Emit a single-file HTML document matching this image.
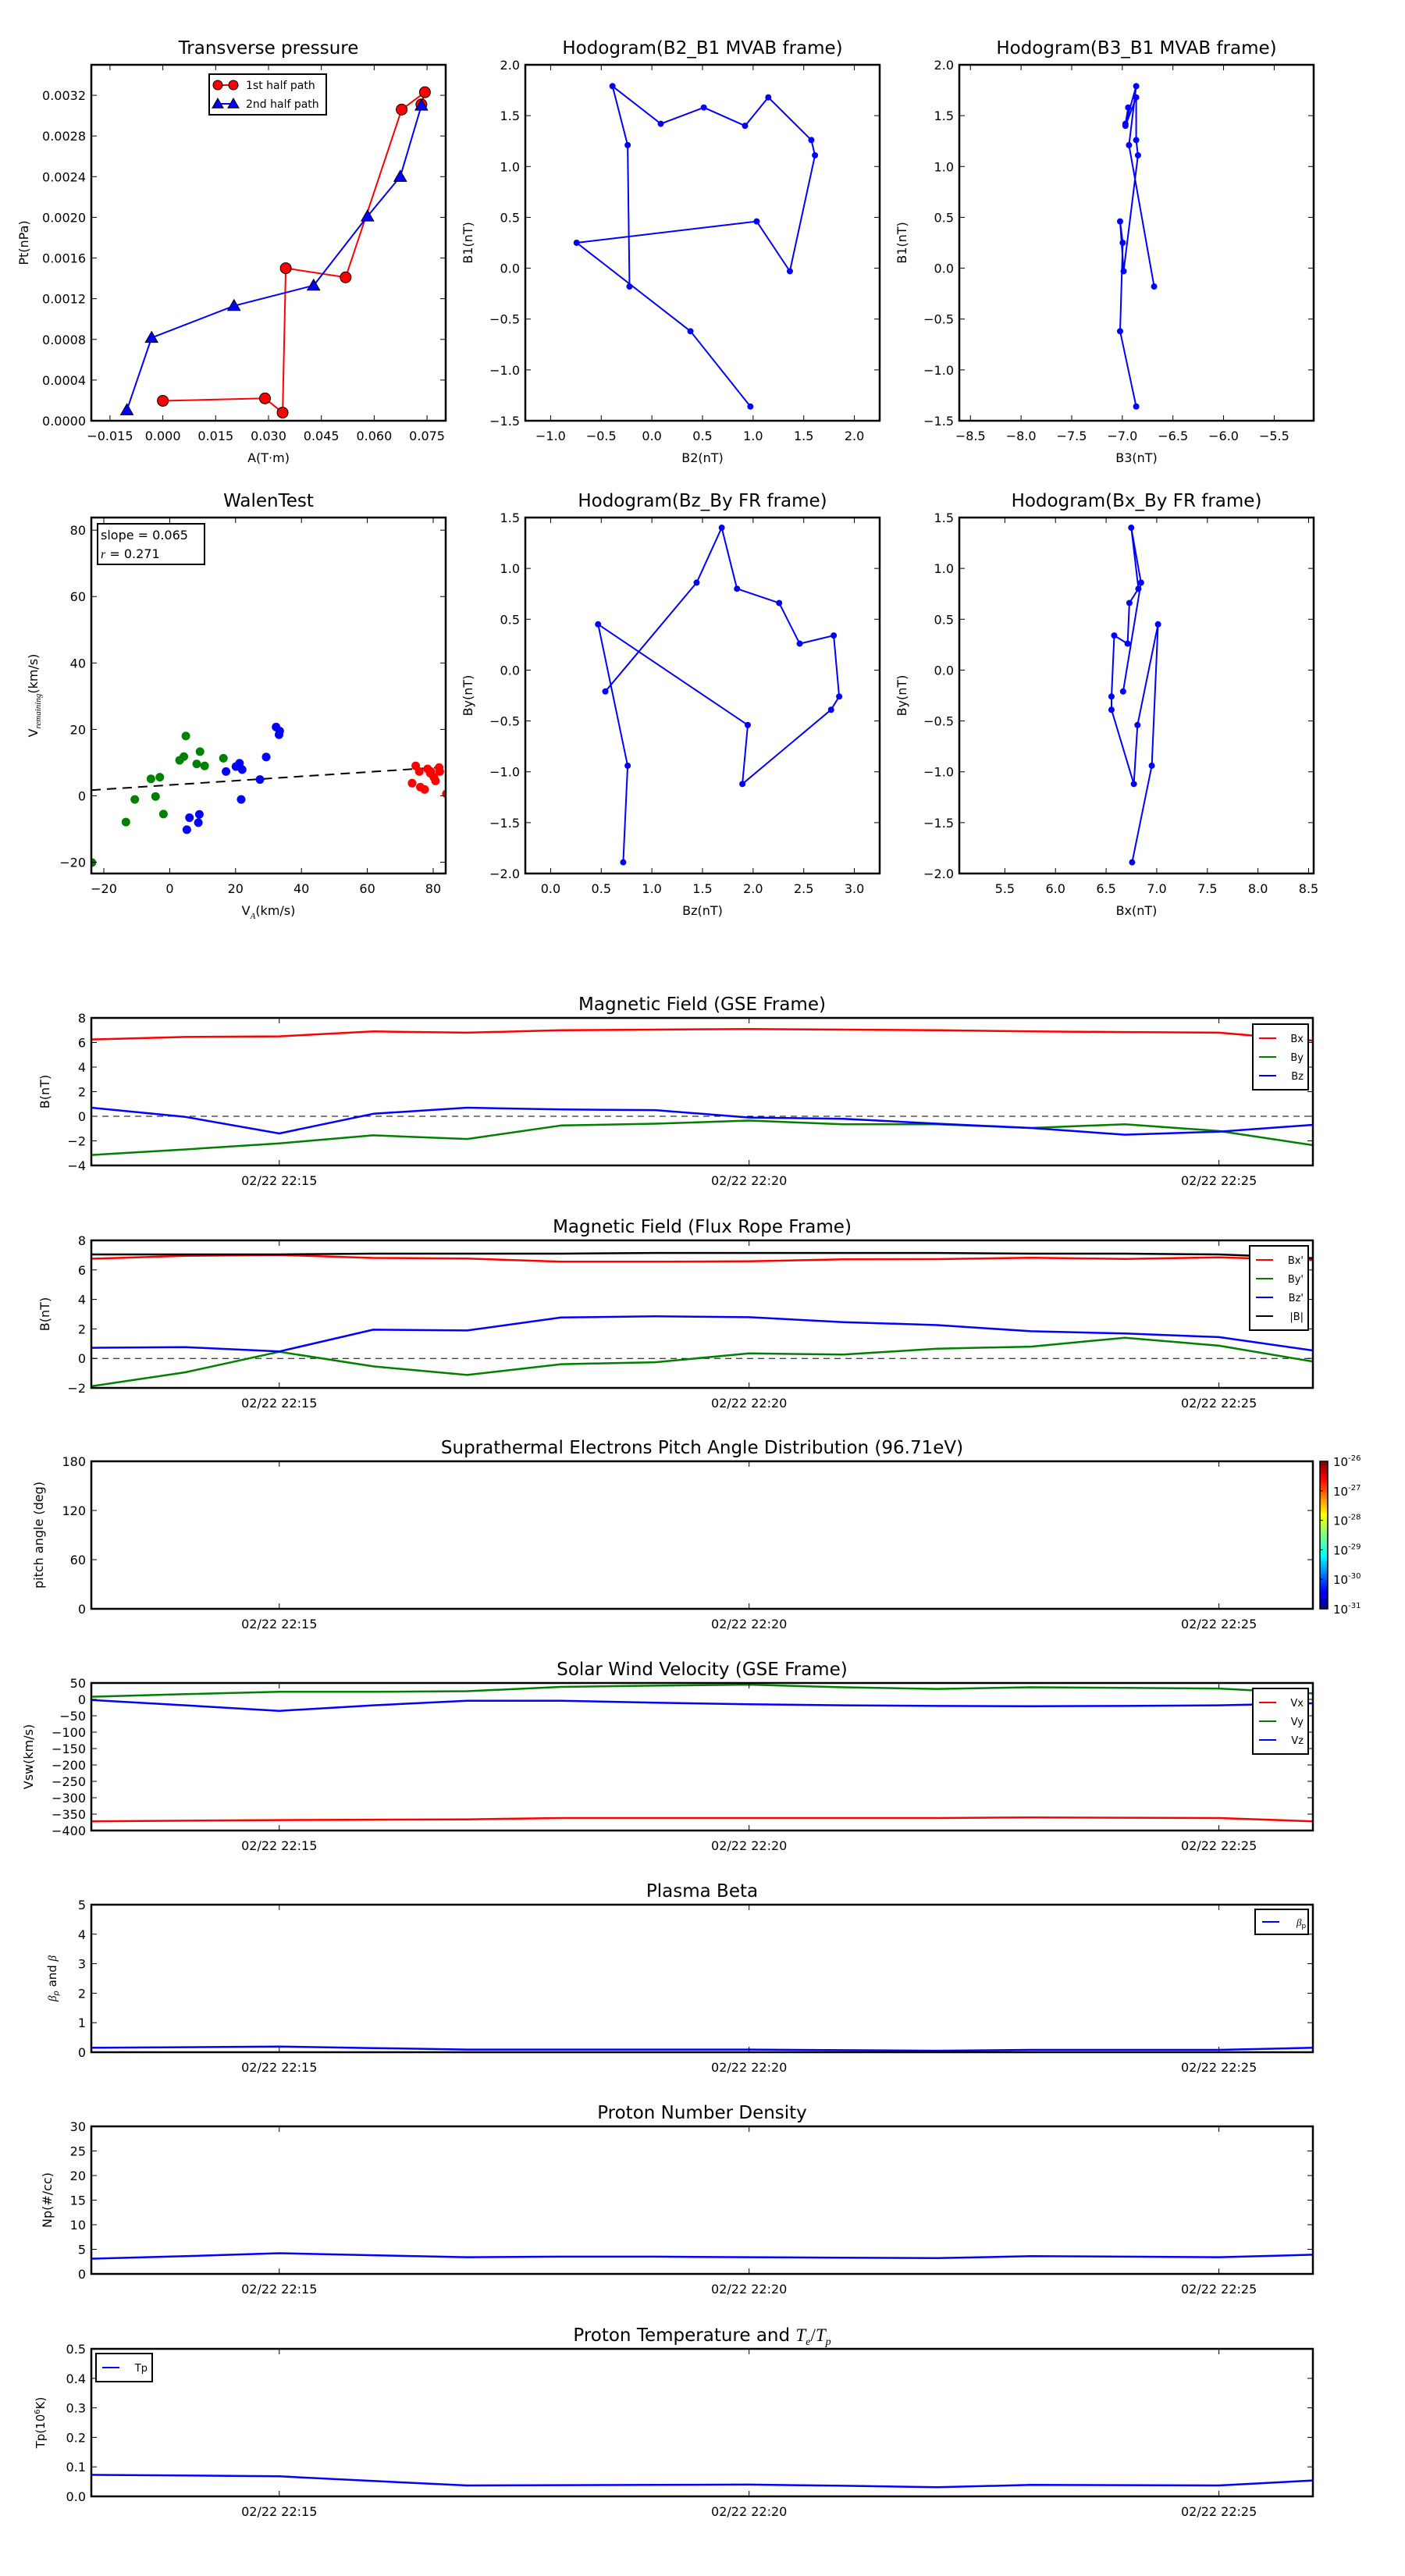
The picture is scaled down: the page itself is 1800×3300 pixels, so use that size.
<!DOCTYPE html>
<html><head><meta charset="utf-8">
<style>
html,body{margin:0;padding:0;background:#fff;}
svg{display:block;font-family:"DejaVu Sans","Liberation Sans",sans-serif;}
</style></head>
<body>
<svg id="fig" xmlns="http://www.w3.org/2000/svg" width="1800" height="3300" viewBox="0 0 1800 3300">
<defs>
<linearGradient id="jet" x1="0" y1="1" x2="0" y2="0">
<stop offset="0" stop-color="#00008f"/><stop offset="0.12" stop-color="#0000ff"/><stop offset="0.36" stop-color="#00ffff"/>
<stop offset="0.5" stop-color="#80ff80"/><stop offset="0.64" stop-color="#ffff00"/><stop offset="0.88" stop-color="#ff0000"/><stop offset="1" stop-color="#800000"/>
</linearGradient>
</defs>
</svg>
<script>
// ---------- data ----------
const tpRedA = [0.0, 0.0290, 0.0340, 0.0349, 0.0519, 0.0678, 0.0744, 0.0734];
const tpRedP = [0.000196, 0.00022, 0.00008, 0.0015, 0.00141, 0.00306, 0.00323, 0.00311];
const tpBlueA = [-0.0102, -0.0032, 0.0202, 0.0428, 0.0581, 0.0674, 0.0734];
const tpBlueP = [0.000105, 0.000816, 0.00113, 0.00133, 0.00201, 0.0024, 0.0031];
const tpXTicks = [-0.015, 0.0, 0.015, 0.030, 0.045, 0.060, 0.075];
const tpXLabels = ['\u22120.015','0.000','0.015','0.030','0.045','0.060','0.075'];
const tpYTicks = [0,0.0004,0.0008,0.0012,0.0016,0.0020,0.0024,0.0028,0.0032];
const tpYLabels = ['0.0000','0.0004','0.0008','0.0012','0.0016','0.0020','0.0024','0.0028','0.0032'];

const mvB2 = [0.973,0.381,-0.743,1.035,1.363,1.611,1.575,1.150,0.920,0.513,0.088,-0.389,-0.239,-0.221];
const mvB1 = [-1.36,-0.62,0.25,0.46,-0.03,1.11,1.26,1.68,1.40,1.58,1.42,1.79,1.21,-0.18];
const mvB3 = [-6.863,-7.022,-6.996,-7.022,-6.987,-6.845,-6.863,-6.863,-6.969,-6.942,-6.969,-6.863,-6.934,-6.686];

const frBz = [0.717,0.761,0.469,1.947,1.894,2.770,2.850,2.796,2.460,2.257,1.841,1.690,1.442,0.540];
const frBy = [-1.89,-0.94,0.45,-0.54,-1.12,-0.39,-0.26,0.34,0.26,0.66,0.80,1.40,0.86,-0.21];
const frBx = [6.757,6.951,7.013,6.810,6.774,6.553,6.553,6.580,6.712,6.730,6.819,6.748,6.845,6.668];
const frBt = [7.05,7.05,7.05,7.1,7.1,7.1,7.15,7.15,7.15,7.15,7.1,7.1,7.05,6.8];

const walenGX = [-23.6,-13.3,-10.6,-5.7,-3.0,-4.3,-1.9,4.9,3.0,4.3,8.2,9.2,10.6,16.3];
const walenGY = [-20.1,-7.9,-1.1,5.1,5.6,-0.2,-5.5,18.0,10.7,11.8,9.6,13.3,9.0,11.3];
const walenBX = [5.2,6.0,8.7,9.0,17.1,20.1,21.2,22.0,21.7,27.4,29.3,32.3,33.2,33.4];
const walenBY = [-10.2,-6.6,-8.1,-5.6,7.3,8.8,9.8,7.9,-1.1,4.9,11.7,20.7,18.4,19.5];
const walenRX = [74.7,73.6,75.8,76.1,77.4,78.3,79.1,80.2,80.7,81.8,84.0,79.3,82.0];
const walenRY = [9.0,3.8,7.3,2.6,1.9,8.1,6.8,5.6,4.5,8.5,0.6,7.3,7.3];
const walenSlope = [0.065];
const walenIntercept = [3.25];

const timeMin = [0,1,2,3,4,5,6,7,8,9,10,11,12,13];
const timeTicks = [2,7,12];
const timeLabels = ['02/22 22:15','02/22 22:20','02/22 22:25'];
const gseBx = [6.25,6.45,6.5,6.9,6.8,7.0,7.05,7.1,7.05,7.0,6.9,6.85,6.8,6.15];
const gseBy = [-3.15,-2.7,-2.2,-1.55,-1.85,-0.75,-0.6,-0.35,-0.65,-0.65,-0.95,-0.65,-1.2,-2.35];
const gseBz = [0.7,-0.05,-1.4,0.2,0.7,0.55,0.5,-0.1,-0.2,-0.6,-0.95,-1.5,-1.25,-0.7];
const vx = [-372,-370,-368,-367,-366,-362,-362,-362,-362,-362,-360,-361,-362,-372];
const vy = [8,16,23,23,25,38,42,45,37,32,37,35,33,18];
const vz = [-2,-18,-35,-18,-4,-4,-10,-15,-18,-20,-21,-20,-18,-12];
const betaP = [0.15,0.17,0.19,0.14,0.09,0.09,0.09,0.09,0.07,0.05,0.08,0.08,0.08,0.15];
const np = [3.1,3.6,4.2,3.8,3.4,3.5,3.5,3.4,3.3,3.2,3.6,3.5,3.4,3.9];
const tp = [0.073,0.071,0.068,0.052,0.037,0.038,0.039,0.040,0.036,0.031,0.039,0.038,0.037,0.054];

// ---------- helpers ----------
const NS='http://www.w3.org/2000/svg';
const fig=document.getElementById('fig');
let clipId=0;
function mk(tag, attrs, parent){
  const e=document.createElementNS(NS,tag);
  for(const k in attrs) e.setAttribute(k,attrs[k]);
  (parent||fig).appendChild(e);
  return e;
}
function txt(x,y,s,size,anchor,parent){
  const t=mk('text',{x:x,y:y,'font-size':size,'text-anchor':anchor||'middle',fill:'#000'},parent);
  t.textContent=s;
  return t;
}
function makeAxes(name,x,y,w,h,xmin,xmax,ymin,ymax){
  const g=mk('g',{});
  
  
  const id='clip'+(clipId++);
  const cp=mk('clipPath',{id:id},g);
  mk('rect',{x:x,y:y,width:w,height:h},cp);
  const plot=mk('g',{'clip-path':'url(#'+id+')'},g);
  
  
  return {g:g,plot:plot,x:x,y:y,w:w,h:h,
    sx:v=>x+(v-xmin)/(xmax-xmin)*w,
    sy:v=>y+h-(v-ymin)/(ymax-ymin)*h};
}
function frame(ax, xt, xl, yt, yl, fs){
  fs=fs||16;
  const r=mk('rect',{x:ax.x,y:ax.y,width:ax.w,height:ax.h,fill:'none',stroke:'#000','stroke-width':2.5},ax.g);
  
  
  xt.forEach((v,i)=>{
    const px=ax.sx(v);
    mk('line',{x1:px,y1:ax.y+ax.h,x2:px,y2:ax.y+ax.h-7,stroke:'#000','stroke-width':1},ax.g);
    mk('line',{x1:px,y1:ax.y,x2:px,y2:ax.y+7,stroke:'#000','stroke-width':1},ax.g);
    const t=txt(px,ax.y+ax.h+25,xl[i],fs,'middle',ax.g);
    
    
  });
  yt.forEach((v,i)=>{
    const py=ax.sy(v);
    mk('line',{x1:ax.x,y1:py,x2:ax.x+7,y2:py,stroke:'#000','stroke-width':1},ax.g);
    mk('line',{x1:ax.x+ax.w,y1:py,x2:ax.x+ax.w-7,y2:py,stroke:'#000','stroke-width':1},ax.g);
    const t=txt(ax.x-7,py+6,yl[i],fs,'end',ax.g);
    
    
  });
}
function title(ax,s,yoff){
  const t=txt(ax.x+ax.w/2,ax.y-(yoff||10),s,23,'middle',ax.g);
  
  
  return t;
}
function ylab(ax,s,x){
  const cy=ax.y+ax.h/2;
  const t=txt(x,cy,s,16,'middle',ax.g);
  t.setAttribute('transform','rotate(-90 '+x+' '+cy+')');
  
  
  return t;
}
function xlab(ax,s,y){
  const t=txt(ax.x+ax.w/2,y,s,16,'middle',ax.g);
  
  
  return t;
}
function poly(ax,xs,ys,color,w,name){
  const pts=xs.map((v,i)=>ax.sx(v).toFixed(1)+','+ax.sy(ys[i]).toFixed(1)).join(' ');
  const p=mk('polyline',{points:pts,fill:'none',stroke:color,'stroke-width':w,'stroke-linejoin':'round'},ax.plot);
  
  
  return p;
}
function dots(ax,xs,ys,color,r,edge,name){
  xs.forEach((v,i)=>{
    const c=mk('circle',{cx:ax.sx(v),cy:ax.sy(ys[i]),r:r,fill:color,stroke:edge||'none','stroke-width':1},ax.plot);
    
    
  });
}
function tri(px,py,s,parent){
  return mk('polygon',{points:px+','+(py-s)+' '+(px-s)+','+(py+s*0.75)+' '+(px+s)+','+(py+s*0.75),fill:'#0000ff',stroke:'#000','stroke-width':1},parent);
}

// ---------- Transverse pressure ----------
const C1=117,C2=673,C3=1229,CW=454,R1=83,R2=663,RH=456;
let ax=makeAxes('transverse-pressure-chart',C1,R1,CW,RH,-0.0203,0.0803,0,0.0035);
poly(ax,tpRedA,tpRedP,'#ff0000',2,'first-half-path-line');
poly(ax,tpBlueA,tpBlueP,'#0000ff',2,'second-half-path-line');
dots(ax,tpRedA,tpRedP,'#ff0000',7,'#000','first-half-marker');
tpBlueA.forEach((v,i)=>{
  const m=tri(ax.sx(v),ax.sy(tpBlueP[i]),8,ax.plot);
  
  
});
frame(ax,tpXTicks,tpXLabels,tpYTicks,tpYLabels);
title(ax,'Transverse pressure',14);
ylab(ax,'Pt(nPa)',36);
xlab(ax,'A(T\u00b7m)',592);
{
  const lg=mk('g',{},ax.g);
  
  
  mk('rect',{x:268,y:95,width:150,height:52,fill:'#fff',stroke:'#000','stroke-width':2},lg);
  mk('line',{x1:279,y1:109,x2:299,y2:109,stroke:'#ff0000','stroke-width':2},lg);
  mk('circle',{cx:279,cy:109,r:6,fill:'#ff0000',stroke:'#000'},lg);
  mk('circle',{cx:299,cy:109,r:6,fill:'#ff0000',stroke:'#000'},lg);
  const t1=txt(315,114,'1st half path',14,'start',lg);
  
  
  mk('line',{x1:279,y1:133,x2:299,y2:133,stroke:'#0000ff','stroke-width':2},lg);
  tri(279,133,7,lg); tri(299,133,7,lg);
  const t2=txt(315,138,'2nd half path',14,'start',lg);
  
  
}

// ---------- Hodograms ----------
function hodo(name,cx,cy,xs,ys,xmin,ymin,ymax,xt,yt,ttl,xl,yl){
  const a=makeAxes(name,cx,cy,CW,RH,xmin,xmin+3.5,ymin,ymax);
  poly(a,xs,ys,'#0000ff',2,'hodogram-line');
  dots(a,xs,ys,'#0000ff',4,null,'hodogram-point');
  frame(a,xt,xt.map(v=>v.toFixed(1).replace('-','\u2212')),yt,yt.map(v=>v.toFixed(1).replace('-','\u2212')));
  title(a,ttl,14);
  xlab(a,xl,cy===R1?592:1172);
  ylab(a,yl,cx-68);
  return a;
}
const hy1=[-1.5,-1.0,-0.5,0,0.5,1.0,1.5,2.0];
const hy2=[-2.0,-1.5,-1.0,-0.5,0,0.5,1.0,1.5];
hodo('hodogram-b2-b1',C2,R1,mvB2,mvB1,-1.25,-1.5,2.0,[-1.0,-0.5,0,0.5,1.0,1.5,2.0],hy1,'Hodogram(B2_B1 MVAB frame)','B2(nT)','B1(nT)');
hodo('hodogram-b3-b1',C3,R1,mvB3,mvB1,-8.61,-1.5,2.0,[-8.5,-8.0,-7.5,-7.0,-6.5,-6.0,-5.5],hy1,'Hodogram(B3_B1 MVAB frame)','B3(nT)','B1(nT)');
hodo('hodogram-bz-by',C2,R2,frBz,frBy,-0.25,-2.0,1.5,[0,0.5,1.0,1.5,2.0,2.5,3.0],hy2,'Hodogram(Bz_By FR frame)','Bz(nT)','By(nT)');
hodo('hodogram-bx-by',C3,R2,frBx,frBy,5.05,-2.0,1.5,[5.5,6.0,6.5,7.0,7.5,8.0,8.5],hy2,'Hodogram(Bx_By FR frame)','Bx(nT)','By(nT)');

// ---------- Walen test ----------
ax=makeAxes('walen-test-chart',C1,R2,CW,RH,-23.8,83.8,-23.4,83.8);
{
  const xa=-23.8, xb=83.8;
  const ln=mk('line',{x1:ax.sx(xa),y1:ax.sy(walenIntercept[0]+walenSlope[0]*xa),x2:ax.sx(xb),y2:ax.sy(walenIntercept[0]+walenSlope[0]*xb),stroke:'#000','stroke-width':2,'stroke-dasharray':'12,8'},ax.plot);
  
  
}
dots(ax,walenGX,walenGY,'#008000',5.5,null,'walen-point-green');
dots(ax,walenBX,walenBY,'#0000ff',5.5,null,'walen-point-blue');
dots(ax,walenRX,walenRY,'#ff0000',5.5,null,'walen-point-red');
frame(ax,[-20,0,20,40,60,80],['\u221220','0','20','40','60','80'],[-20,0,20,40,60,80],['\u221220','0','20','40','60','80']);
title(ax,'WalenTest',14);
{
  const t=txt(ax.x+ax.w/2,1172,'',16,'middle',ax.g);
  t.innerHTML='V<tspan font-size="11" dy="5" font-style="italic" font-family="Liberation Serif, serif">A</tspan><tspan dy="-5">(km/s)</tspan>';
  
  
  const cy=ax.y+ax.h/2;
  const t2=txt(48,cy,'',16,'middle',ax.g);
  t2.setAttribute('transform','rotate(-90 48 '+cy+')');
  t2.innerHTML='V<tspan font-size="11" dy="4" font-style="italic" font-family="Liberation Serif, serif">remaining</tspan><tspan dy="-4">(km/s)</tspan>';
  
  
  const bx=mk('g',{},ax.g);
  
  
  mk('rect',{x:125,y:671,width:137,height:52,fill:'#fff',stroke:'#000','stroke-width':2},bx);
  txt(129,691,'slope = 0.065',16,'start',bx);
  const rt=txt(129,715,'',16,'start',bx);
  rt.innerHTML='<tspan font-style="italic" font-family="Liberation Serif, serif">r</tspan> = 0.271';
}

// ---------- Time series ----------
const TX=117,TW=1565,TH=189;
function tAxes(name,top,ymin,ymax){return makeAxes(name,TX,top,TW,TH,0,13,ymin,ymax);}
function legend(x,y,w,entries,colors){
  const lg=mk('g',{});
  
  
  mk('rect',{x:x,y:y,width:w,height:entries.length*24+12,fill:'#fff',stroke:'#000','stroke-width':2},lg);
  entries.forEach((s,i)=>{
    const yy=y+18+i*24;
    mk('line',{x1:x+8,y1:yy,x2:x+30,y2:yy,stroke:colors[i],'stroke-width':2},lg);
    const t=txt(x+w-6,yy+5,s,13,'end',lg);
    
    
  });
}
function zeroLine(a){
  const l=mk('line',{x1:a.x,y1:a.sy(0),x2:a.x+a.w,y2:a.sy(0),stroke:'#000','stroke-width':1,'stroke-dasharray':'8,6'},a.plot);
  
  
}
function rng(a,b,s){const r=[];for(let v=a;v<=b+1e-9;v+=s)r.push(+v.toFixed(6));return r;}
function lab(arr,d){return arr.map(v=>v.toFixed(d).replace('-','\u2212'));}

// GSE
ax=tAxes('magnetic-field-gse-chart',1304,-4,8);
zeroLine(ax);
poly(ax,timeMin,gseBx,'#ff0000',2.5,'bx-line');
poly(ax,timeMin,gseBy,'#008000',2.5,'by-line');
poly(ax,timeMin,gseBz,'#0000ff',2.5,'bz-line');
frame(ax,timeTicks,timeLabels,rng(-4,8,2),lab(rng(-4,8,2),0));
title(ax,'Magnetic Field (GSE Frame)',10);
ylab(ax,'B(nT)',63);
legend(1605,1312,71,['Bx','By','Bz'],['#ff0000','#008000','#0000ff']);

// FR
ax=tAxes('magnetic-field-fr-chart',1589,-2,8);
zeroLine(ax);
poly(ax,timeMin,frBx,'#ff0000',2.5,'bx-prime-line');
poly(ax,timeMin,frBy,'#008000',2.5,'by-prime-line');
poly(ax,timeMin,frBz,'#0000ff',2.5,'bz-prime-line');
poly(ax,timeMin,frBt,'#000000',2.5,'b-magnitude-line');
frame(ax,timeTicks,timeLabels,rng(-2,8,2),lab(rng(-2,8,2),0));
title(ax,'Magnetic Field (Flux Rope Frame)',10);
ylab(ax,'B(nT)',63);
legend(1601,1596,75,["Bx'","By'","Bz'",'|B|'],['#ff0000','#008000','#0000ff','#000000']);

// PAD
ax=tAxes('pitch-angle-chart',1872,0,180);
frame(ax,timeTicks,timeLabels,[0,60,120,180],['0','60','120','180']);
title(ax,'Suprathermal Electrons Pitch Angle Distribution (96.71eV)',10);
ylab(ax,'pitch angle (deg)',55);
{
  const cb=mk('g',{});
  
  
  mk('rect',{x:1691,y:1872,width:10,height:189,fill:'url(#jet)',stroke:'#000','stroke-width':1.5},cb);
  const exps=['-26','-27','-28','-29','-30','-31'];
  exps.forEach((e,i)=>{
    const yy=1872+i*189/5;
    mk('line',{x1:1691,y1:yy,x2:1695,y2:yy,stroke:'#000'},cb);
    const t=txt(1708,yy+6,'',15,'start',cb);
    t.innerHTML='10<tspan font-size="10" dy="-7">'+e+'</tspan>';
    
    
  });
}

// Vsw
ax=tAxes('solar-wind-velocity-chart',2156,-400,50);
poly(ax,timeMin,vx,'#ff0000',2.5,'vx-line');
poly(ax,timeMin,vy,'#008000',2.5,'vy-line');
poly(ax,timeMin,vz,'#0000ff',2.5,'vz-line');
frame(ax,timeTicks,timeLabels,rng(-400,50,50),lab(rng(-400,50,50),0));
title(ax,'Solar Wind Velocity (GSE Frame)',10);
ylab(ax,'Vsw(km/s)',42);
legend(1605,2163,71,['Vx','Vy','Vz'],['#ff0000','#008000','#0000ff']);

// Beta
ax=tAxes('plasma-beta-chart',2440,0,5);
poly(ax,timeMin,betaP,'#0000ff',2.5,'beta-p-line');
frame(ax,timeTicks,timeLabels,rng(0,5,1),lab(rng(0,5,1),0));
title(ax,'Plasma Beta',10);
{
  const cy=ax.y+ax.h/2;
  const t=txt(72,cy,'',15,'middle',ax.g);
  t.setAttribute('transform','rotate(-90 72 '+cy+')');
  t.innerHTML='<tspan font-style="italic" font-family="Liberation Serif, serif">\u03b2</tspan><tspan font-size="10" dy="3" font-style="italic">p</tspan><tspan dy="-3"> and </tspan><tspan font-style="italic" font-family="Liberation Serif, serif">\u03b2</tspan>';
  
  
  const lg=mk('g',{});
  
  
  mk('rect',{x:1608,y:2446,width:68,height:32,fill:'#fff',stroke:'#000','stroke-width':2},lg);
  mk('line',{x1:1617,y1:2462,x2:1639,y2:2462,stroke:'#0000ff','stroke-width':2},lg);
  const lt=txt(1661,2467,'',13,'start',lg);
  lt.innerHTML='<tspan font-style="italic" font-family="Liberation Serif, serif">\u03b2</tspan><tspan font-size="9" dy="3">p</tspan>';
  
  
}

// Np
ax=tAxes('proton-density-chart',2724,0,30);
poly(ax,timeMin,np,'#0000ff',2.5,'np-line');
frame(ax,timeTicks,timeLabels,rng(0,30,5),lab(rng(0,30,5),0));
title(ax,'Proton Number Density',10);
ylab(ax,'Np(#/cc)',66);

// Tp
ax=tAxes('proton-temperature-chart',3009,0,0.5);
poly(ax,timeMin,tp,'#0000ff',2.5,'tp-line');
frame(ax,timeTicks,timeLabels,rng(0,0.5,0.1),lab(rng(0,0.5,0.1),1));
{
  const t=txt(ax.x+ax.w/2,ax.y-10,'',23,'middle',ax.g);
  t.innerHTML='Proton Temperature and <tspan font-style="italic" font-family="Liberation Serif, serif">T</tspan><tspan font-size="14" dy="5" font-style="italic" font-family="Liberation Serif, serif">e</tspan><tspan dy="-5" font-family="Liberation Serif, serif">/</tspan><tspan font-style="italic" font-family="Liberation Serif, serif">T</tspan><tspan font-size="14" dy="5" font-style="italic" font-family="Liberation Serif, serif">p</tspan>';
  
  
  const cy=ax.y+ax.h/2;
  const t2=txt(57,cy,'',15,'middle',ax.g);
  t2.setAttribute('transform','rotate(-90 57 '+cy+')');
  t2.innerHTML='Tp(10<tspan font-size="10" dy="-6">6</tspan><tspan dy="6">K)</tspan>';
  
  
}
legend(123,3015,72,['Tp'],['#0000ff']);
</script>
</body></html>
